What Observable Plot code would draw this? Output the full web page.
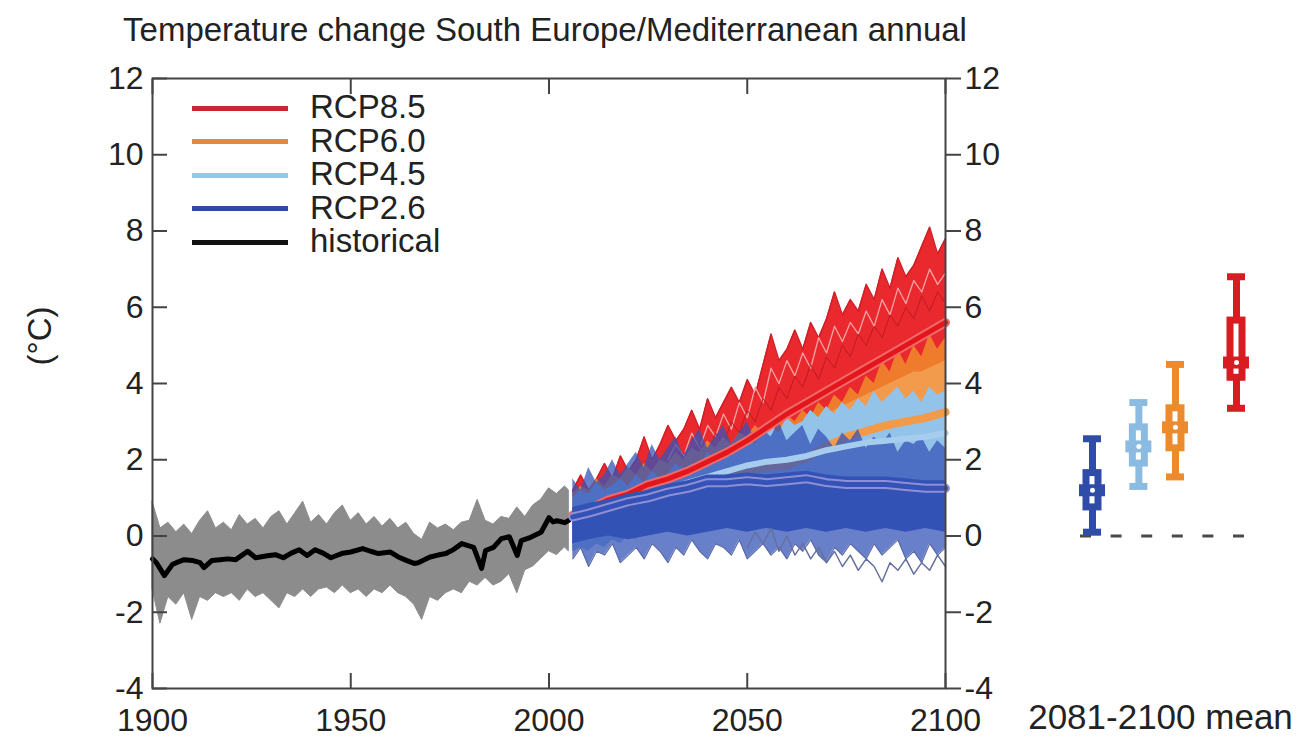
<!DOCTYPE html>
<html>
<head>
<meta charset="utf-8">
<script src="https://cdn.jsdelivr.net/npm/d3@7"></script>
<script src="https://cdn.jsdelivr.net/npm/@observablehq/plot@0.6"></script>
<style>
  html, body { margin: 0; padding: 0; background: #fff; }
  #chart { position: relative; width: 1300px; height: 742px; overflow: hidden;
           font-family: "Liberation Sans", Arial, Helvetica, sans-serif; color: #222; }
  #title { position: absolute; left: 0; top: 13px; width: 1090px; text-align: center;
           font-size: 33px; line-height: 33px; white-space: nowrap; }
  #chart svg { position: absolute; top: 0; }
  .legend-row { position: absolute; left: 192px; height: 33px; }
  .legend-bar { position: absolute; left: 0; width: 96px; height: 5px; }
  .legend-text { position: absolute; left: 118px; top: 0; font-size: 33px; line-height: 33px; white-space: nowrap; }
</style>
</head>
<body>
<div id="chart">
  <div id="title">Temperature change South Europe/Mediterranean annual</div>
</div>
<script>
// ---- historical ensemble (1900-2005) ----
const histYears = [1900,1902,1904,1906,1908,1910,1912,1914,1916,1918,1920,1922,1924,1926,1928,1930,1932,1934,1936,1938,1940,1942,1944,1946,1948,1950,1952,1954,1956,1958,1960,1962,1964,1966,1968,1970,1972,1974,1976,1978,1980,1982,1984,1986,1988,1990,1992,1994,1996,1998,2000,2002,2004,2005];
const histHi = [0.9,0.2,0.35,0.1,0.3,0.05,0.4,0.65,0.2,0.35,0.15,0.55,0.3,0.45,0.2,0.5,0.65,0.3,0.6,0.9,0.35,0.55,0.3,0.6,0.8,0.4,0.6,0.3,0.5,0.25,0.45,0.2,0.35,0.05,-0.1,0.35,0.2,0.3,0.15,0.35,0.4,0.95,0.4,0.3,0.5,0.45,0.75,0.5,0.8,0.95,1.25,1.1,1.3,1.2];
const histLo = [-1.4,-2.3,-1.6,-1.8,-1.5,-2.2,-1.6,-1.7,-1.5,-1.6,-1.5,-1.7,-1.4,-1.6,-1.5,-1.7,-1.9,-1.5,-1.6,-1.4,-1.6,-1.4,-1.35,-1.5,-1.3,-1.5,-1.4,-1.6,-1.4,-1.5,-1.3,-1.5,-1.6,-1.8,-2.2,-1.6,-1.7,-1.5,-1.4,-1.5,-1.2,-1.3,-1.1,-1.3,-1.2,-1.0,-1.5,-0.9,-0.8,-0.6,-0.4,-0.5,-0.3,-0.4];
const histMeanYears = [1900,1901,1903,1905,1906,1908,1910,1912,1913,1915,1917,1919,1921,1924,1926,1929,1931,1933,1935,1937,1939,1941,1943,1945,1948,1950,1953,1955,1957,1960,1962,1964,1966,1967,1970,1972,1974,1976,1978,1981,1983,1984,1986,1988,1990,1992,1993,1995,1998,2000,2001,2002,2004,2005];
const histMean = [-0.6,-0.7,-1.04,-0.75,-0.7,-0.62,-0.64,-0.7,-0.83,-0.64,-0.62,-0.6,-0.62,-0.4,-0.57,-0.52,-0.49,-0.57,-0.45,-0.36,-0.51,-0.36,-0.45,-0.57,-0.45,-0.42,-0.33,-0.4,-0.46,-0.42,-0.55,-0.64,-0.72,-0.7,-0.55,-0.5,-0.46,-0.35,-0.2,-0.3,-0.85,-0.38,-0.3,-0.07,-0.02,-0.51,-0.12,-0.05,0.1,0.48,0.37,0.4,0.35,0.41];

// ---- scenario ensemble ranges (2006-2100) ----
const projYears = [2006,2008,2010,2012,2014,2016,2018,2020,2022,2024,2026,2028,2030,2032,2034,2036,2038,2040,2042,2044,2046,2048,2050,2052,2054,2056,2058,2060,2062,2064,2066,2068,2070,2072,2074,2076,2078,2080,2082,2084,2086,2088,2090,2092,2094,2096,2098,2100];
const rcp85Hi = [1.2,1.6,1.2,1.5,1.9,1.5,2.1,1.7,2.0,2.6,2.0,2.4,2.9,2.5,2.8,3.3,2.8,3.6,3.1,3.5,3.9,3.5,4.1,3.7,4.5,5.3,4.6,4.9,5.4,4.9,5.6,5.2,5.7,6.4,5.8,6.2,5.9,6.6,6.2,7.0,6.5,7.3,6.8,7.1,7.6,8.1,7.4,7.8];
const rcp85Lo = [-0.4,-0.3,-0.3,-0.2,-0.1,0.0,0.1,0.2,0.3,0.4,0.5,0.6,0.7,0.8,0.9,1.0,1.1,1.2,1.3,1.4,1.5,1.6,1.7,1.9,2.0,2.2,2.3,2.5,2.6,2.8,2.9,3.0,3.1,3.3,3.4,3.5,3.6,3.7,3.8,3.9,4.0,4.1,4.2,4.3,4.3,4.4,4.5,4.6];
const rcp60Hi = [1.1,1.3,1.2,1.5,1.3,1.6,1.5,1.8,1.6,1.9,1.7,2.0,1.9,2.2,2.0,2.3,2.2,2.5,2.3,2.6,2.4,2.7,2.6,2.9,2.7,3.0,2.9,3.2,3.0,3.3,3.1,3.5,3.3,3.7,3.5,3.9,3.7,4.2,4.0,4.6,4.3,4.9,4.5,5.0,4.7,5.3,4.9,5.2];
const rcp60Lo = [-0.4,-0.3,-0.3,-0.2,-0.2,-0.1,-0.1,0.0,0.1,0.1,0.2,0.2,0.3,0.4,0.4,0.5,0.5,0.6,0.7,0.7,0.8,0.8,0.9,1.0,1.0,1.1,1.1,1.2,1.3,1.3,1.4,1.5,1.5,1.6,1.7,1.7,1.8,1.9,1.9,2.0,2.1,2.1,2.2,2.3,2.3,2.4,2.5,2.5];
const rcp45Hi = [1.0,1.2,1.1,1.4,1.2,1.3,1.5,1.3,1.6,1.4,1.7,1.5,1.6,1.9,1.7,1.9,1.8,2.2,2.0,2.2,2.4,2.3,2.6,2.4,2.7,2.9,2.7,3.1,2.9,3.0,3.3,3.1,3.4,3.2,3.5,3.3,3.6,3.4,3.8,3.5,3.7,3.9,3.6,3.8,3.5,3.9,3.7,3.8];
const rcp45Lo = [-0.4,-0.3,-0.4,-0.2,-0.3,-0.1,-0.2,0.0,-0.1,0.1,0.0,0.2,0.1,0.3,0.2,0.4,0.3,0.5,0.4,0.6,0.5,0.7,0.6,0.7,0.7,0.8,0.7,0.9,0.8,0.9,0.9,1.0,0.9,1.0,1.0,1.1,1.0,1.1,1.1,1.2,1.1,1.2,1.1,1.2,1.2,1.3,1.2,1.3];
const rcp26Hi = [1.5,1.2,1.8,1.4,1.6,2.0,1.6,1.9,2.2,1.8,2.4,2.0,2.3,2.6,2.1,2.5,2.8,2.3,2.6,2.9,2.4,2.7,3.0,2.5,2.8,2.6,3.0,2.5,2.7,2.9,2.4,2.8,2.6,2.3,2.7,2.5,2.8,2.3,2.6,2.4,2.7,2.2,2.5,2.4,2.6,2.2,2.5,2.3];
const rcp26Lo = [-0.6,-0.3,-0.8,-0.4,-0.5,-0.2,-0.7,-0.5,-0.3,-0.6,-0.2,-0.4,-0.7,-0.3,-0.5,-0.1,-0.4,-0.6,-0.2,-0.3,-0.5,-0.1,-0.6,-0.4,-0.2,-0.5,-0.3,-0.6,-0.2,-0.4,-0.1,-0.5,-0.7,-0.3,-0.5,-0.2,-0.4,-0.6,-0.2,-0.5,-0.3,-0.1,-0.6,-0.4,-0.7,-0.2,-0.5,-0.3];

// ---- multi-model means ----
const meanYears = [2006,2010,2015,2020,2025,2030,2035,2040,2045,2050,2055,2060,2065,2070,2075,2080,2085,2090,2095,2100];
const rcp85Mean = [0.55,0.7,0.95,1.1,1.35,1.5,1.7,1.95,2.2,2.5,2.85,3.2,3.5,3.8,4.1,4.4,4.7,5.0,5.3,5.6];
const rcp60Mean = [0.5,0.6,0.75,0.85,1.0,1.15,1.3,1.45,1.6,1.75,1.8,1.85,2.05,2.35,2.6,2.75,2.9,3.0,3.1,3.25];
const rcp45Mean = [0.55,0.65,0.8,0.95,1.1,1.25,1.4,1.55,1.7,1.85,1.95,2.0,2.1,2.25,2.35,2.45,2.5,2.55,2.6,2.7];
const rcp26Mean = [0.5,0.6,0.75,0.9,1.0,1.15,1.25,1.4,1.4,1.45,1.4,1.45,1.5,1.4,1.35,1.35,1.35,1.3,1.25,1.25];
// dense central part of the RCP2.6 ensemble
const rcp26CoreLo = [-0.2,-0.1,0.0,-0.1,0.0,0.1,0.0,0.1,0.2,0.1,0.2,0.1,0.2,0.1,0.2,0.1,0.2,0.1,0.2,0.1];
const rcp26CoreHi = [0.75,0.85,0.95,1.1,1.2,1.35,1.45,1.6,1.6,1.65,1.6,1.65,1.7,1.6,1.55,1.55,1.55,1.5,1.45,1.45];

// ---- individual members drawn on top of the ranges ----
const memberYears = [2030,2032,2034,2036,2038,2040,2042,2044,2046,2048,2050,2052,2054,2056,2058,2060,2062,2064,2066,2068,2070,2072,2074,2076,2078,2080,2082,2084,2086,2088,2090,2092,2094,2096,2098,2100];
const rcp85MemberA = [2.0,2.4,2.1,2.7,2.3,2.9,2.6,3.2,2.8,3.5,3.1,3.9,3.5,4.4,4.0,4.6,4.2,4.8,4.4,5.2,4.8,5.5,5.1,5.6,5.3,5.9,5.5,6.2,5.8,6.5,6.1,6.7,6.4,7.0,6.6,6.9];
const rcp85MemberB = [1.9,1.7,2.2,1.9,2.4,2.1,2.7,2.4,3.0,2.7,3.3,3.0,3.6,3.3,3.9,3.6,4.2,3.9,4.5,4.1,4.7,4.4,5.0,4.7,5.3,5.0,5.5,5.2,5.8,5.5,6.0,5.7,6.3,5.9,6.4,6.1];
const coolMemberYears = [2050,2052,2054,2056,2058,2060,2062,2064,2066,2068,2070,2072,2074,2076,2078,2080,2082,2084,2086,2088,2090,2092,2094,2096,2098,2100];
const rcp26CoolMember = [-0.3,0.1,-0.2,0.2,-0.4,0.0,-0.5,-0.2,-0.6,-0.3,-0.7,-0.4,-0.8,-0.5,-0.9,-0.6,-0.8,-1.2,-0.7,-0.9,-0.6,-1.0,-0.7,-0.9,-0.5,-0.8];

// ---- 2081-2100 mean change per scenario ----
const scenarios = ["RCP2.6", "RCP4.5", "RCP6.0", "RCP8.5"];
const forcing = [2.6, 4.5, 6.0, 8.5];
const p5 = [0.1, 1.3, 1.55, 3.35];
const q1 = [0.75, 1.9, 2.3, 4.15];
const median = [1.2, 2.35, 2.85, 4.55];
const q3 = [1.65, 2.85, 3.35, 5.65];
const p95 = [2.55, 3.5, 4.5, 6.8];

// ---- axis ticks and legend ----
const xTicks = [1900, 1950, 2000, 2050, 2100];
const yTicks = [-4, -2, 0, 2, 4, 6, 8, 10, 12];
const legendLabels = ["RCP8.5", "RCP6.0", "RCP4.5", "RCP2.6", "historical"];

const boxColors = {"RCP2.6": "#2f4ca8", "RCP4.5": "#8cbbe2", "RCP6.0": "#ec8a2e", "RCP8.5": "#d81c22"};
const legendColors = ["#c9262f", "#e2893f", "#98c6e6", "#2f4b9e", "#111111"];
const fontFamily = '"Liberation Sans", Arial, Helvetica, sans-serif';
const plain = d => String(d);

const hist = histYears.map((year, i) => ({year, lo: histLo[i], hi: histHi[i]}));
const histLine = histMeanYears.map((year, i) => ({year, v: histMean[i]}));
const proj = projYears.map((year, i) => ({
  year,
  r85lo: rcp85Lo[i], r85hi: rcp85Hi[i],
  r60lo: rcp60Lo[i], r60hi: rcp60Hi[i],
  r45lo: rcp45Lo[i], r45hi: rcp45Hi[i],
  r26lo: rcp26Lo[i], r26hi: rcp26Hi[i]
}));
const means = meanYears.map((year, i) => ({
  year, r85: rcp85Mean[i], r60: rcp60Mean[i], r45: rcp45Mean[i], r26: rcp26Mean[i],
  coreLo: rcp26CoreLo[i], coreHi: rcp26CoreHi[i]
}));
const members = memberYears.map((year, i) => ({year, a: rcp85MemberA[i], b: rcp85MemberB[i]}));
const cool = coolMemberYears.map((year, i) => ({year, v: rcp26CoolMember[i]}));
const boxes = scenarios.map((name, i) => ({
  name, forcing: forcing[i], p5: p5[i], q1: q1[i], median: median[i], q3: q3[i], p95: p95[i]
}));

const chart = document.getElementById("chart");

// main time-series panel
const main = Plot.plot({
  width: 1000, height: 742,
  marginLeft: 152, marginRight: 55, marginTop: 78, marginBottom: 54,
  x: {domain: [1900, 2100]},
  y: {domain: [-4, 12]},
  style: {fontFamily, fontSize: "32px", color: "#222", background: "transparent", overflow: "visible"},
  marks: [
    Plot.areaY(hist, {x: "year", y1: "lo", y2: "hi", fill: "#8c8c8c", stroke: "#8c8c8c", strokeWidth: 1}),
    Plot.line(histLine, {x: "year", y: "v", stroke: "#000", strokeWidth: 5, strokeLinejoin: "round"}),

    Plot.areaY(proj, {x: "year", y1: "r85lo", y2: "r85hi", fill: "#e9292d"}),
    Plot.line(proj, {x: "year", y: "r85hi", stroke: "#cf1f27", strokeWidth: 1.5}),
    Plot.line(members, {x: "year", y: "a", stroke: "#f5a4a4", strokeWidth: 1.3}),
    Plot.line(members, {x: "year", y: "b", stroke: "#bf1a21", strokeWidth: 1}),

    Plot.areaY(proj, {x: "year", y1: "r60lo", y2: "r60hi", fill: "#f08a2d", fillOpacity: 0.85}),
    Plot.areaY(proj, {x: "year", y1: "r45lo", y2: "r45hi", fill: "#93c3e8"}),
    Plot.line(means, {x: "year", y: "r60", stroke: "#f29a48", strokeWidth: 8}),

    Plot.areaY(proj, {x: "year", y1: "r26lo", y2: "r26hi", fill: "#3554b8", fillOpacity: 0.75}),
    Plot.line(proj, {x: "year", y: "r26lo", stroke: "#5b6aa8", strokeWidth: 1.2}),

    Plot.line(means, {x: "year", y: "r45", stroke: "#a6cdee", strokeWidth: 6}),
    Plot.line(means, {x: "year", y: "r85", stroke: "#f06a6a", strokeWidth: 9}),
    Plot.line(means, {x: "year", y: "r85", stroke: "#e3161c", strokeWidth: 5}),

    Plot.areaY(means, {x: "year", y1: "coreLo", y2: "coreHi", fill: "#3352b6"}),
    Plot.line(cool, {x: "year", y: "v", stroke: "#66709e", strokeWidth: 1.5}),
    Plot.line(means, {x: "year", y: "r26", stroke: "#8e8fd4", strokeWidth: 9}),
    Plot.line(means, {x: "year", y: "r26", stroke: "#3452b7", strokeWidth: 5}),

    // inward ticks on left, bottom and top; outward labelled ticks on the right
    Plot.axisY(yTicks, {anchor: "left", tickSize: 0, tickPadding: 9, tickFormat: plain, label: null}),
    Plot.axisY(yTicks, {anchor: "left", tickSize: 15, dx: 15, tickFormat: () => "", label: null, stroke: "#444", strokeWidth: 2}),
    Plot.axisY(yTicks, {anchor: "right", tickSize: 15, tickPadding: 4, tickFormat: plain, label: null, stroke: "#444", strokeWidth: 2}),
    Plot.axisX(xTicks, {anchor: "bottom", tickSize: 0, tickPadding: 20, tickFormat: plain, label: null}),
    Plot.axisX(xTicks, {anchor: "bottom", tickSize: 15, dy: -15, tickFormat: () => "", label: null, stroke: "#444", strokeWidth: 2}),
    Plot.axisX(xTicks, {anchor: "top", tickSize: 15, dy: 15, tickFormat: () => "", label: null, stroke: "#444", strokeWidth: 2}),
    Plot.frame({stroke: "#444", strokeWidth: 2}),

    Plot.text(["(°C)"], {text: d => d, frameAnchor: "left", dx: -112, dy: -18, rotate: -90, fontSize: 33, fill: "#222"})
  ]
});
main.style.left = "0px";
chart.appendChild(main);

// 2081-2100 mean panel, same vertical scale
const side = Plot.plot({
  width: 300, height: 742,
  marginLeft: 92, marginRight: 64, marginTop: 78, marginBottom: 54,
  x: {domain: [2.6, 8.5], axis: null},
  y: {domain: [-4, 12], axis: null},
  style: {fontFamily, fontSize: "32px", color: "#222", background: "transparent", overflow: "visible"},
  marks: [
    Plot.ruleY([0], {stroke: "#4a4a4a", strokeWidth: 3, strokeDasharray: "11,19.6", insetLeft: -12, insetRight: -12}),
    ...boxes.flatMap(b => {
      const c = boxColors[b.name];
      return [
        Plot.ruleX([b], {x: "forcing", y1: "p5", y2: "p95", stroke: c, strokeWidth: 7}),
        Plot.ruleY([b], {y: "p95", x1: "forcing", x2: "forcing", insetLeft: -9, insetRight: -9, stroke: c, strokeWidth: 7}),
        Plot.ruleY([b], {y: "p5", x1: "forcing", x2: "forcing", insetLeft: -9, insetRight: -9, stroke: c, strokeWidth: 7}),
        Plot.rect([b], {x1: "forcing", x2: "forcing", y1: "q1", y2: "q3", insetLeft: -6, insetRight: -6, fill: "#fff", stroke: c, strokeWidth: 7}),
        Plot.ruleY([b], {y: "median", x1: "forcing", x2: "forcing", insetLeft: -13, insetRight: -13, stroke: c, strokeWidth: 12}),
        Plot.dot([b], {x: "forcing", y: "median", r: 2.5, fill: "#fff"})
      ];
    }),
    Plot.text(["2081-2100 mean"], {text: d => d, frameAnchor: "bottom", lineAnchor: "top", dy: 16, dx: -4, fontSize: 35, fill: "#222"})
  ]
});
side.style.left = "1000px";
chart.appendChild(side);

// legend
legendLabels.forEach((label, i) => {
  const row = document.createElement("div");
  row.className = "legend-row";
  const yMid = 108 + i * 33.5;
  row.style.top = (yMid - 18) + "px";
  const bar = document.createElement("div");
  bar.className = "legend-bar";
  bar.style.background = legendColors[i];
  bar.style.top = "15.5px";
  const txt = document.createElement("div");
  txt.className = "legend-text";
  txt.textContent = label;
  row.appendChild(bar);
  row.appendChild(txt);
  chart.appendChild(row);
});
</script>
</body>
</html>
